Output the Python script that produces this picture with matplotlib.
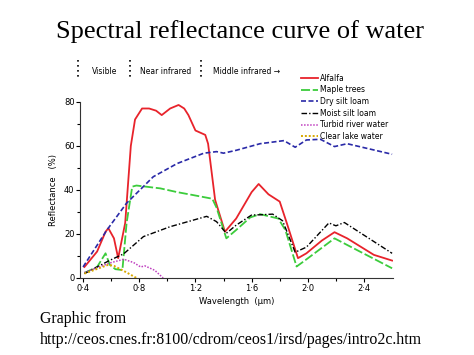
import numpy as np
import matplotlib.pyplot as plt
from matplotlib.lines import Line2D

# wavelength (um) / reflectance (%)
alfalfa_x = [0.41, 0.50, 0.56, 0.58, 0.62, 0.65, 0.70, 0.74, 0.77, 0.82, 0.87, 0.92, 0.96, 1.02, 1.08, 1.12, 1.15, 1.20, 1.27, 1.29, 1.34, 1.41, 1.49, 1.60, 1.65, 1.72, 1.80, 1.85, 1.93, 1.99, 2.10, 2.19, 2.28, 2.47, 2.60]
alfalfa_y = [5, 12, 21, 22.6, 18, 9, 25, 60, 72, 77, 77, 76, 74, 77, 78.6, 77, 74, 67, 65, 61, 35.5, 21, 27, 39, 42.7, 38, 34.7, 25, 9, 11.2, 17, 20.8, 18, 10.5, 7.9]

maple_x = [0.41, 0.50, 0.56, 0.59, 0.63, 0.68, 0.71, 0.75, 0.78, 0.95, 1.07, 1.18, 1.32, 1.35, 1.42, 1.49, 1.59, 1.66, 1.79, 1.84, 1.92, 1.97, 2.19, 2.28, 2.60]
maple_y = [2.3, 5, 11.2, 6, 4, 3.6, 25, 41.5, 42, 40.7, 39, 37.7, 36, 32, 18, 21.8, 27.5, 29, 27, 21.8, 5.2, 7.5, 18, 15, 4.4]

dry_x = [0.40, 0.57, 0.71, 0.90, 1.07, 1.26, 1.35, 1.40, 1.49, 1.66, 1.83, 1.91, 1.99, 2.09, 2.19, 2.28, 2.60]
dry_y = [5, 21.8, 34, 46, 52, 56.7, 57.4, 56.7, 58, 61, 62.4, 59.4, 62.7, 63, 59.7, 61, 56.2]

moist_x = [0.41, 0.59, 0.69, 0.83, 1.02, 1.28, 1.35, 1.42, 1.49, 1.60, 1.66, 1.75, 1.82, 1.91, 1.99, 2.15, 2.20, 2.26, 2.60]
moist_y = [2, 8, 11, 18.8, 23.3, 28, 25.6, 20.3, 24, 28.6, 28.7, 29, 26, 11.7, 14, 25, 23.7, 25.2, 11.2]

turbid_x = [0.41, 0.59, 0.69, 0.76, 0.81, 0.84, 0.91, 0.97]
turbid_y = [2.5, 6.8, 8.5, 7, 5, 5.5, 3.5, 0]

clear_x = [0.41, 0.58, 0.62, 0.71, 0.78]
clear_y = [2, 6, 5.5, 2.5, 0]

xticks = [0.4, 0.8, 1.2, 1.6, 2.0, 2.4]
xticklabels = ['0·4', '0·8', '1·2', '1·6', '2·0', '2·4']
yticks = [0, 20, 40, 60, 80]

fig = plt.figure(figsize=(4.74, 3.55), dpi=100)
ax = fig.add_axes([0.169, 0.217, 0.660, 0.496])

ax.plot(alfalfa_x, alfalfa_y, color='#e8232b', lw=1.3, label='Alfalfa')
ax.plot(maple_x, maple_y, color='#3ccc3c', lw=1.3, ls=(0, (5, 1.5)), label='Maple trees')
ax.plot(dry_x, dry_y, color='#2a2aa8', lw=1.2, ls=(0, (3, 1.5)), label='Dry silt loam')
ax.plot(moist_x, moist_y, color='black', lw=1.0, ls=(0, (4, 1.5, 1, 1.5)), label='Moist silt loam')
ax.plot(turbid_x, turbid_y, color='#c040c0', lw=1.1, ls=(0, (1, 1)), label='Turbid river water')
ax.plot(clear_x, clear_y, color='#d8a800', lw=1.4, ls=(0, (1, 1)), label='Clear lake water')

ax.set_xlim(0.379, 2.606)
ax.set_ylim(0, 80)
ax.set_xticks(xticks)
ax.set_xticklabels(xticklabels)
ax.set_xticks(np.arange(0.6, 2.6, 0.4), minor=True)
ax.set_yticks(yticks)
ax.set_yticks([10, 30, 50, 70], minor=True)
ax.tick_params(labelsize=6, length=3, width=0.8, pad=1)
ax.tick_params(which='minor', length=2, width=0.8)
for s in ['top', 'right']:
    ax.spines[s].set_visible(False)
for s in ['left', 'bottom']:
    ax.spines[s].set_color('#333333')

ax.set_xlabel('Wavelength  (μm)', fontsize=6, labelpad=3)
ax.set_ylabel('Reflectance   (%)', fontsize=6, labelpad=4)

ax.legend(loc='upper left', bbox_to_anchor=(0.685, 1.20), frameon=False,
          fontsize=5.5, handlelength=2.2, handletextpad=0.3, labelspacing=0.35)

# band markers above the plot
for xf in [78 / 474, 130 / 474, 201 / 474]:
    fig.add_artist(Line2D([xf, xf], [1 - 60 / 355, 1 - 80 / 355], color='black',
                          lw=1.2, ls=(0, (1, 2))))
fig.text(92 / 474, 1 - 71 / 355, 'Visible', fontsize=5.5, va='center')
fig.text(140 / 474, 1 - 71 / 355, 'Near infrared', fontsize=5.5, va='center')
fig.text(213 / 474, 1 - 71 / 355, 'Middle infrared →', fontsize=5.5, va='center')

fig.text(240 / 474, 1 - 32 / 355, 'Spectral reflectance curve of water', ha='center', va='center',
         fontsize=19, family='Liberation Serif')
fig.text(40 / 474, 1 - 319 / 355, 'Graphic from', fontsize=11.4, va='center', family='Liberation Serif')
fig.text(40 / 474, 1 - 340 / 355, 'http://ceos.cnes.fr:8100/cdrom/ceos1/irsd/pages/intro2c.htm',
         fontsize=11.4, va='center', family='Liberation Serif')

fig.savefig('out.png', dpi=100)
